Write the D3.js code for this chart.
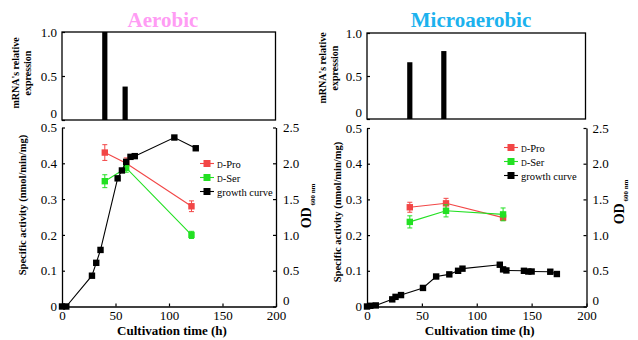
<!DOCTYPE html>
<html>
<head>
<meta charset="utf-8">
<script src="https://cdn.jsdelivr.net/npm/d3@7"></script>
<style>
    body { margin: 0; background: #fff; }
    svg text { font-family: "Liberation Serif", "Times New Roman", Times, "DejaVu Serif", serif; fill: #000; }
</style>
</head>
<body>
<svg id="chart" width="638" height="340" font-family="Liberation Serif, Times New Roman, serif"></svg>
<script>
// ---- data ----
const xTicks = [0, 50, 100, 150, 200];
const actTicks = [0, 0.1, 0.2, 0.3, 0.4, 0.5];
const odTicks = [0, 0.5, 1.0, 1.5, 2.0, 2.5];
const mrnaTicks = [0, 0.5, 1.0];

// aerobic
const aeroMrnaTime = [40, 59];
const aeroMrna = [1.0, 0.38];
const aeroActTime = [40, 60, 121];
const aeroPro = [0.43, 0.40, 0.28];
const aeroProErr = [0.022, 0.015, 0.015];
const aeroSer = [0.35, 0.387, 0.20];
const aeroSerErr = [0.018, 0.012, 0.01];
const aeroGrowthTime = [0, 4, 28, 32, 36, 52, 56, 60, 64, 68, 105, 125];
const aeroGrowth = [0, 0, 0.43, 0.61, 0.79, 1.79, 1.90, 2.02, 2.09, 2.10, 2.36, 2.21];

// microaerobic
const microMrnaTime = [39, 70];
const microMrna = [0.66, 0.79];
const microActTime = [39, 72, 124];
const microPro = [0.278, 0.289, 0.249];
const microProErr = [0.014, 0.014, 0.008];
const microSer = [0.237, 0.268, 0.258];
const microSerErr = [0.017, 0.017, 0.018];
const microGrowthTime = [0, 3, 8, 23, 26, 31, 51, 63, 75, 83, 87, 121, 124, 127, 143, 147, 150, 167, 173];
const microGrowth = [0, 0.01, 0.015, 0.10, 0.135, 0.16, 0.26, 0.42, 0.45, 0.50, 0.53, 0.585, 0.52, 0.505, 0.50, 0.49, 0.49, 0.487, 0.455];

const legendNames = ['Pro', 'Ser', 'growth curve'];
const RED = '#f24646';
const GREEN = '#22e022';

const svg = d3.select('#chart');
const fmt = v => v === 0 ? '0' : d3.format('.1f')(v);
const zip = (a, b, c) => a.map((t, i) => ({ t: t, v: b[i], e: c ? c[i] : 0 }));

function styleAxis(g, size) {
    g.attr('font-size', size).attr('font-family', null);
    g.selectAll('line').attr('stroke', '#000').attr('stroke-width', 1.2);
    g.select('.domain').attr('stroke', '#000').attr('stroke-width', 1.3);
}

function drawPanel(cfg, d) {
    const x = d3.scaleLinear().domain([0, 200]).range([cfg.x0, cfg.x1]);
    const yTop = d3.scaleLinear().domain([0, 1]).range([cfg.top1, cfg.top0]);
    const yAct = d3.scaleLinear().domain([0, 0.5]).range([cfg.bot1, cfg.bot0]);
    const yOD = d3.scaleLinear().domain([0, 2.5]).range([cfg.bot1, cfg.bot0]);

    svg.append('text')
        .attr('x', cfg.titleX).attr('y', 27)
        .attr('text-anchor', 'middle')
        .attr('font-size', 21).attr('font-weight', 'bold')
        .style('fill', cfg.titleColor)
        .text(cfg.title);

    // mRNA bars
    svg.selectAll(null)
        .data(zip(d.mrnaTime, d.mrna))
        .enter()
        .append('rect')
        .attr('x', p => x(p.t) - 2.6)
        .attr('y', p => yTop(p.v))
        .attr('width', 5.2)
        .attr('height', p => yTop(0) - yTop(p.v))
        .attr('fill', '#000');

    svg.append('rect')
        .attr('x', cfg.x0).attr('y', cfg.top0)
        .attr('width', cfg.topX1 - cfg.x0).attr('height', cfg.top1 - cfg.top0)
        .attr('fill', 'none').attr('stroke', '#000').attr('stroke-width', 1.3);

    const gTop = svg.append('g')
        .attr('transform', `translate(${cfg.x0},0)`)
        .call(d3.axisLeft(yTop).tickValues(mrnaTicks).tickFormat(fmt)
            .tickSizeInner(-3).tickSizeOuter(0).tickPadding(5));
    styleAxis(gTop, 13);
    gTop.select('.domain').remove();
    gTop.selectAll('.tick text').attr('dy', v => v === 0 ? '-0.2em' : '0.32em');

    const mrnaLabel = svg.append('text')
        .attr('transform', `translate(${cfg.mrnaX},${cfg.mrnaY}) rotate(-90)`)
        .attr('text-anchor', 'middle')
        .attr('font-size', 10).attr('font-weight', 'bold');
    mrnaLabel.append('tspan').attr('x', 0).attr('dy', 0).text("mRNA's relative");
    mrnaLabel.append('tspan').attr('x', 0).attr('dy', 11.5).text('expression');

    // bottom plot axes
    const gx = svg.append('g')
        .attr('transform', `translate(0,${cfg.bot1})`)
        .call(d3.axisBottom(x).tickValues(xTicks).tickSizeInner(-3).tickSizeOuter(0).tickPadding(4));
    styleAxis(gx, 13);

    const gl = svg.append('g')
        .attr('transform', `translate(${cfg.x0},0)`)
        .call(d3.axisLeft(yAct).tickValues(actTicks).tickFormat(fmt)
            .tickSizeInner(-3).tickSizeOuter(0).tickPadding(5));
    styleAxis(gl, 13);

    const gr = svg.append('g')
        .attr('transform', `translate(${cfg.x1},0)`)
        .call(d3.axisRight(yOD).tickValues(odTicks).tickFormat(fmt)
            .tickSizeInner(-3).tickSizeOuter(0).tickPadding(cfg.rightPad));
    styleAxis(gr, 13);
    gr.selectAll('.tick text').attr('dy', v => v === 0 ? '-0.15em' : '0.32em');

    svg.append('text')
        .attr('x', (cfg.x0 + cfg.x1) / 2 + 3).attr('y', 335)
        .attr('text-anchor', 'middle')
        .attr('font-size', 13).attr('font-weight', 'bold')
        .text('Cultivation time (h)');

    svg.append('text')
        .attr('transform', `translate(${cfg.actX},${cfg.actY}) rotate(-90)`)
        .attr('text-anchor', 'middle')
        .attr('font-size', 10.5).attr('font-weight', 'bold')
        .text('Specific activity  (nmol/min/mg)');

    const od = svg.append('text')
        .attr('transform', `translate(${cfg.odX},${cfg.odY}) rotate(-90)`)
        .attr('text-anchor', 'middle')
        .attr('font-weight', 'bold');
    od.append('tspan').attr('font-size', 14).text('OD');
    od.append('tspan').attr('font-size', 7).attr('dy', 4).text(' 600 nm');

    // series
    const series = [
        { pts: zip(d.actTime, d.pro, d.proErr), y: yAct, color: RED },
        { pts: zip(d.actTime, d.ser, d.serErr), y: yAct, color: GREEN },
        { pts: zip(d.growthTime, d.growth), y: yOD, color: '#000' },
    ];

    series.forEach(s => {
        const line = d3.line().x(p => x(p.t)).y(p => s.y(p.v));
        svg.append('path')
            .datum(s.pts)
            .attr('d', line)
            .attr('fill', 'none')
            .attr('stroke', s.color)
            .attr('stroke-width', 1.1);

        const eb = svg.append('g').attr('stroke', s.color).attr('stroke-width', 1);
        s.pts.filter(p => p.e > 0).forEach(p => {
            eb.append('line').attr('x1', x(p.t)).attr('x2', x(p.t))
                .attr('y1', s.y(p.v - p.e)).attr('y2', s.y(p.v + p.e));
            [p.v - p.e, p.v + p.e].forEach(v => {
                eb.append('line').attr('x1', x(p.t) - 2.5).attr('x2', x(p.t) + 2.5)
                    .attr('y1', s.y(v)).attr('y2', s.y(v));
            });
        });

        svg.selectAll(null)
            .data(s.pts)
            .enter()
            .append('rect')
            .attr('x', p => x(p.t) - 3.2)
            .attr('y', p => s.y(p.v) - 3.2)
            .attr('width', 6.4)
            .attr('height', 6.4)
            .attr('fill', s.color);
    });

    // legend
    const colors = [RED, GREEN, '#000'];
    legendNames.forEach((name, i) => {
        const ly = cfg.legY + i * 14;
        svg.append('line')
            .attr('x1', cfg.legX - 7).attr('x2', cfg.legX + 7)
            .attr('y1', ly).attr('y2', ly)
            .attr('stroke', colors[i]).attr('stroke-width', 1.1);
        svg.append('rect')
            .attr('x', cfg.legX - 3.5).attr('y', ly - 3.5)
            .attr('width', 7).attr('height', 7)
            .attr('fill', colors[i]);
        const t = svg.append('text')
            .attr('x', cfg.legX + 10).attr('y', ly + 4)
            .attr('font-size', 10.5);
        if (i < 2) {
            t.append('tspan').attr('font-size', 8).text('D');
            t.append('tspan').text('-' + name);
        } else {
            t.text(name);
        }
    });
}

drawPanel({
    title: 'Aerobic', titleColor: '#ff9cf4', titleX: 163,
    x0: 62, x1: 276, topX1: 275.5,
    top0: 32, top1: 120, bot0: 127.5, bot1: 306.5,
    rightPad: 7,
    mrnaX: 19, mrnaY: 73,
    actX: 26, actY: 205,
    odX: 311, odY: 206,
    legX: 207, legY: 163.5,
}, {
    mrnaTime: aeroMrnaTime, mrna: aeroMrna,
    actTime: aeroActTime, pro: aeroPro, proErr: aeroProErr, ser: aeroSer, serErr: aeroSerErr,
    growthTime: aeroGrowthTime, growth: aeroGrowth,
});

drawPanel({
    title: 'Microaerobic', titleColor: '#1cb2ee', titleX: 471,
    x0: 367, x1: 586.5, topX1: 585.5,
    top0: 33, top1: 119, bot0: 128, bot1: 306.5,
    rightPad: 6,
    mrnaX: 326, mrnaY: 68,
    actX: 341, actY: 212,
    odX: 624, odY: 202,
    legX: 511, legY: 147.5,
}, {
    mrnaTime: microMrnaTime, mrna: microMrna,
    actTime: microActTime, pro: microPro, proErr: microProErr, ser: microSer, serErr: microSerErr,
    growthTime: microGrowthTime, growth: microGrowth,
});
</script>
</body>
</html>
